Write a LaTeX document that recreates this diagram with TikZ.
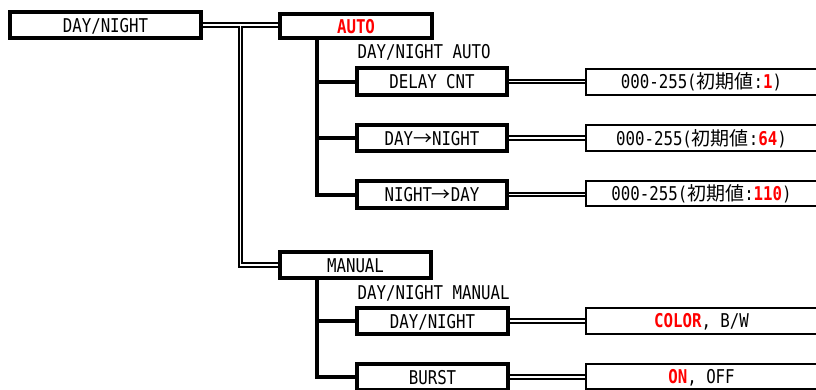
\documentclass[tikz,border=0pt]{standalone}
\usepackage{fontspec}
\setmainfont{DejaVu Sans Mono}[FakeStretch=0.83]
\newfontfamily\jp{Noto Sans CJK JP}
\definecolor{hired}{RGB}{255,0,0}
\begin{document}
\begin{tikzpicture}[x=1pt,y=-1pt,
  every node/.style={font=\fontsize{19pt}{19pt}\selectfont, text height=14pt, text depth=0pt, inner sep=0pt},
  tbox/.style={draw, line width=4pt, minimum height=26.5pt},
  vbox/.style={draw, line width=2pt, minimum height=25.5pt, minimum width=231pt},
  dbl/.style={draw, double, double distance=1.9pt, line width=1.8pt},
  thk/.style={draw, line width=4pt}]
\useasboundingbox (0,0) rectangle (816,389);
\clip (0,0) rectangle (816,389);
% level 1 and 2
\node[tbox, minimum width=191pt] (dn) at (105.5,25) {DAY/NIGHT};
\node[tbox, minimum width=152pt, minimum height=24pt] (auto) at (356,26.3) {\textcolor{hired}{\bfseries AUTO}};
\node[tbox, minimum width=151pt] (man) at (355.5,265) {MANUAL};
% AUTO group
\node[anchor=west] (lauto) at (357.5,51) {DAY/NIGHT AUTO};
\node[tbox, minimum width=150pt] (dc) at (432,81.5) {DELAY CNT};
\node[tbox, minimum width=150pt] (dnn) at (432,138) {DAY{\jp →}NIGHT};
\node[tbox, minimum width=150pt] (ndd) at (432,194.5) {NIGHT{\jp →}DAY};
\node[vbox] (v1) at (701.5,81.75) {000-255({\jp 初期値}:\textcolor{hired}{\bfseries 1})};
\node[vbox] (v2) at (701.5,138) {000-255({\jp 初期値}:\textcolor{hired}{\bfseries 64})};
\node[vbox] (v3) at (701.5,193.5) {000-255({\jp 初期値}:\textcolor{hired}{\bfseries 110})};
% MANUAL group
\node[anchor=west] (lman) at (357.5,292) {DAY/NIGHT MANUAL};
\node[tbox, minimum width=151pt] (mdn) at (432.5,321) {DAY/NIGHT};
\node[tbox, minimum width=151pt] (bu) at (432.5,377) {BURST};
\node[vbox] (v4) at (701.5,320.75) {\textcolor{hired}{\bfseries COLOR}, B/W};
\node[vbox] (v5) at (701.5,376.25) {\textcolor{hired}{\bfseries ON}, OFF};
% double connectors
\draw[dbl] (dn.east) -- (dn.east -| auto.west);
\coordinate (j) at (240.5,26);
\draw[dbl] (j) |- (man.west);
\draw[dbl] (dc.east) -- (dc.east -| v1.west);
\draw[dbl] (dnn.east) -- (dnn.east -| v2.west);
\draw[dbl] (ndd.east) -- (ndd.east -| v3.west);
\draw[dbl] (mdn.east) -- (mdn.east -| v4.west);
\draw[dbl] (bu.east) -- (bu.east -| v5.west);
% thick tree
\coordinate (ta) at (317,38);
\draw[thk] (ta) |- (ndd.west);
\draw[thk] (ta |- dc.west) -- (dc.west);
\draw[thk] (ta |- dnn.west) -- (dnn.west);
\coordinate (tm) at (317,277);
\draw[thk] (tm) |- (bu.west);
\draw[thk] (tm |- mdn.west) -- (mdn.west);
\end{tikzpicture}
\end{document}
